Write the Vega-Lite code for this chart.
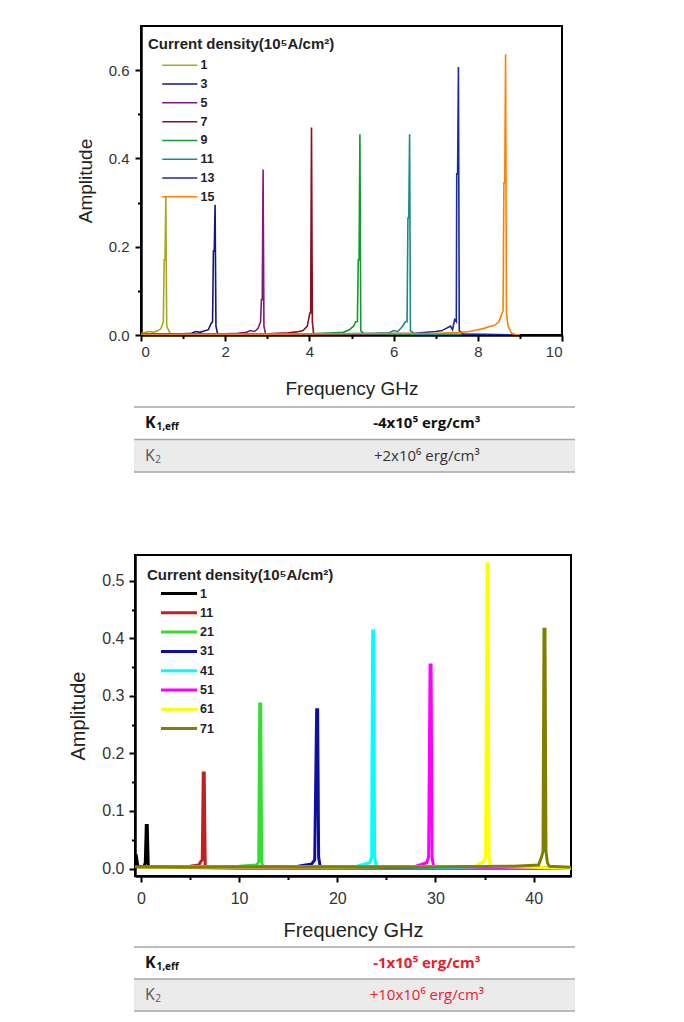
{
  "$schema": "https://vega.github.io/schema/vega-lite/v6.json",
  "padding": {"left": 0, "top": 25, "right": 0, "bottom": 0},
  "background": "white",
  "config": {
    "view": {"stroke": null},
    "font": "Liberation Sans",
    "axis": {"grid": false, "domainColor": "black", "domainWidth": 2.5, "tickColor": "black", "tickWidth": 2, "tickSize": 6, "labelColor": "#333", "titleColor": "#222", "titleFontWeight": "normal"}
  },
  "datasets": {
    "top": [
      {"c":"1","f":0,"a":0.003},{"c":"1","f":0.1,"a":0.006},{"c":"1","f":0.2,"a":0.008},{"c":"1","f":0.3,"a":0.006},{"c":"1","f":0.4,"a":0.01},{"c":"1","f":0.47,"a":0.014},{"c":"1","f":0.53,"a":0.03},{"c":"1","f":0.55,"a":0.17},{"c":"1","f":0.57,"a":0.17},{"c":"1","f":0.59,"a":0.315},{"c":"1","f":0.61,"a":0.02},{"c":"1","f":0.7,"a":0.002},{"c":"1","f":1.2,"a":0.001},{"c":"1","f":3,"a":0.001},{"c":"1","f":6,"a":0.001},{"c":"1","f":9,"a":0},
      {"c":"3","f":0,"a":0.001},{"c":"3","f":0.5,"a":0.002},{"c":"3","f":1.0,"a":0.003},{"c":"3","f":1.2,"a":0.004},{"c":"3","f":1.3,"a":0.008},{"c":"3","f":1.4,"a":0.006},{"c":"3","f":1.5,"a":0.009},{"c":"3","f":1.6,"a":0.012},{"c":"3","f":1.66,"a":0.025},{"c":"3","f":1.7,"a":0.03},{"c":"3","f":1.72,"a":0.19},{"c":"3","f":1.74,"a":0.19},{"c":"3","f":1.76,"a":0.295},{"c":"3","f":1.78,"a":0.02},{"c":"3","f":1.82,"a":0.003},{"c":"3","f":2.5,"a":0.002},{"c":"3","f":4,"a":0.001},{"c":"3","f":6,"a":0.001},{"c":"3","f":9,"a":0},
      {"c":"5","f":0,"a":0.001},{"c":"5","f":1,"a":0.002},{"c":"5","f":2,"a":0.003},{"c":"5","f":2.3,"a":0.004},{"c":"5","f":2.5,"a":0.006},{"c":"5","f":2.6,"a":0.01},{"c":"5","f":2.7,"a":0.008},{"c":"5","f":2.78,"a":0.015},{"c":"5","f":2.84,"a":0.03},{"c":"5","f":2.86,"a":0.08},{"c":"5","f":2.88,"a":0.08},{"c":"5","f":2.9,"a":0.375},{"c":"5","f":2.92,"a":0.02},{"c":"5","f":2.96,"a":0.002},{"c":"5","f":4,"a":0.001},{"c":"5","f":6,"a":0.001},{"c":"5","f":9,"a":0},
      {"c":"7","f":0,"a":0.001},{"c":"7","f":2,"a":0.002},{"c":"7","f":3,"a":0.003},{"c":"7","f":3.5,"a":0.005},{"c":"7","f":3.7,"a":0.007},{"c":"7","f":3.85,"a":0.01},{"c":"7","f":3.95,"a":0.02},{"c":"7","f":3.99,"a":0.04},{"c":"7","f":4.01,"a":0.05},{"c":"7","f":4.03,"a":0.05},{"c":"7","f":4.05,"a":0.47},{"c":"7","f":4.07,"a":0.03},{"c":"7","f":4.1,"a":0.003},{"c":"7","f":5,"a":0.002},{"c":"7","f":7,"a":0.001},{"c":"7","f":9,"a":0},
      {"c":"9","f":0,"a":0.001},{"c":"9","f":3,"a":0.002},{"c":"9","f":4,"a":0.003},{"c":"9","f":4.6,"a":0.005},{"c":"9","f":4.8,"a":0.006},{"c":"9","f":4.95,"a":0.012},{"c":"9","f":5.05,"a":0.02},{"c":"9","f":5.1,"a":0.03},{"c":"9","f":5.14,"a":0.03},{"c":"9","f":5.16,"a":0.17},{"c":"9","f":5.18,"a":0.17},{"c":"9","f":5.2,"a":0.455},{"c":"9","f":5.22,"a":0.01},{"c":"9","f":5.3,"a":0.002},{"c":"9","f":7,"a":0.001},{"c":"9","f":9,"a":0},
      {"c":"11","f":0,"a":0.001},{"c":"11","f":4,"a":0.002},{"c":"11","f":5.5,"a":0.004},{"c":"11","f":5.9,"a":0.005},{"c":"11","f":6.0,"a":0.01},{"c":"11","f":6.1,"a":0.008},{"c":"11","f":6.2,"a":0.018},{"c":"11","f":6.28,"a":0.03},{"c":"11","f":6.32,"a":0.03},{"c":"11","f":6.34,"a":0.265},{"c":"11","f":6.36,"a":0.265},{"c":"11","f":6.38,"a":0.455},{"c":"11","f":6.4,"a":0.01},{"c":"11","f":6.5,"a":0.002},{"c":"11","f":8,"a":0.001},{"c":"11","f":9,"a":0},
      {"c":"13","f":0,"a":0.001},{"c":"13","f":5,"a":0.002},{"c":"13","f":6.5,"a":0.004},{"c":"13","f":7.0,"a":0.008},{"c":"13","f":7.15,"a":0.01},{"c":"13","f":7.25,"a":0.015},{"c":"13","f":7.35,"a":0.02},{"c":"13","f":7.4,"a":0.012},{"c":"13","f":7.45,"a":0.035},{"c":"13","f":7.49,"a":0.03},{"c":"13","f":7.5,"a":0.365},{"c":"13","f":7.52,"a":0.365},{"c":"13","f":7.54,"a":0.607},{"c":"13","f":7.56,"a":0.01},{"c":"13","f":7.65,"a":0.002},{"c":"13","f":9,"a":0},
      {"c":"15","f":0,"a":0.001},{"c":"15","f":3,"a":0.002},{"c":"15","f":5,"a":0.003},{"c":"15","f":7,"a":0.004},{"c":"15","f":7.6,"a":0.006},{"c":"15","f":7.8,"a":0.008},{"c":"15","f":8.0,"a":0.012},{"c":"15","f":8.15,"a":0.015},{"c":"15","f":8.3,"a":0.02},{"c":"15","f":8.4,"a":0.022},{"c":"15","f":8.5,"a":0.03},{"c":"15","f":8.56,"a":0.045},{"c":"15","f":8.6,"a":0.055},{"c":"15","f":8.62,"a":0.345},{"c":"15","f":8.64,"a":0.345},{"c":"15","f":8.66,"a":0.636},{"c":"15","f":8.68,"a":0.05},{"c":"15","f":8.72,"a":0.02},{"c":"15","f":8.8,"a":0.004},{"c":"15","f":8.9,"a":0.001},{"c":"15","f":9.0,"a":0}
    ],
    "bottom": [
      {"c":"1","f":-0.5,"a":0.025},{"c":"1","f":-0.3,"a":0.003},{"c":"1","f":0.3,"a":0.003},{"c":"1","f":0.45,"a":0.01},{"c":"1","f":0.55,"a":0.075},{"c":"1","f":0.65,"a":0.075},{"c":"1","f":0.75,"a":0.003},{"c":"1","f":3,"a":0.002},{"c":"1","f":10,"a":0.001},{"c":"1","f":30,"a":0.001},{"c":"1","f":43.8,"a":0.001},
      {"c":"11","f":0,"a":0.002},{"c":"11","f":3,"a":0.003},{"c":"11","f":5,"a":0.004},{"c":"11","f":5.9,"a":0.006},{"c":"11","f":6.1,"a":0.012},{"c":"11","f":6.25,"a":0.015},{"c":"11","f":6.35,"a":0.166},{"c":"11","f":6.45,"a":0.166},{"c":"11","f":6.55,"a":0.004},{"c":"11","f":10,"a":0.002},{"c":"11","f":43.8,"a":0.001},
      {"c":"21","f":0,"a":0.002},{"c":"21","f":5,"a":0.003},{"c":"21","f":10,"a":0.004},{"c":"21","f":11.8,"a":0.006},{"c":"21","f":12.0,"a":0.012},{"c":"21","f":12.1,"a":0.286},{"c":"21","f":12.2,"a":0.286},{"c":"21","f":12.3,"a":0.01},{"c":"21","f":12.45,"a":0.004},{"c":"21","f":20,"a":0.002},{"c":"21","f":43.8,"a":0.001},
      {"c":"31","f":0,"a":0.002},{"c":"31","f":10,"a":0.003},{"c":"31","f":16,"a":0.004},{"c":"31","f":17.4,"a":0.008},{"c":"31","f":17.7,"a":0.015},{"c":"31","f":17.9,"a":0.276},{"c":"31","f":18.0,"a":0.276},{"c":"31","f":18.1,"a":0.02},{"c":"31","f":18.25,"a":0.004},{"c":"31","f":25,"a":0.002},{"c":"31","f":43.8,"a":0.001},
      {"c":"41","f":0,"a":0.002},{"c":"41","f":15,"a":0.003},{"c":"41","f":22,"a":0.004},{"c":"41","f":23.3,"a":0.01},{"c":"41","f":23.5,"a":0.02},{"c":"41","f":23.6,"a":0.413},{"c":"41","f":23.7,"a":0.413},{"c":"41","f":23.8,"a":0.02},{"c":"41","f":23.95,"a":0.004},{"c":"41","f":30,"a":0.002},{"c":"41","f":43.8,"a":0.001},
      {"c":"51","f":0,"a":0.002},{"c":"51","f":20,"a":0.003},{"c":"51","f":28,"a":0.004},{"c":"51","f":29.1,"a":0.01},{"c":"51","f":29.3,"a":0.02},{"c":"51","f":29.45,"a":0.354},{"c":"51","f":29.55,"a":0.354},{"c":"51","f":29.65,"a":0.02},{"c":"51","f":29.8,"a":0.004},{"c":"51","f":35,"a":0.002},{"c":"51","f":43.8,"a":0.001},
      {"c":"61","f":0,"a":0.002},{"c":"61","f":25,"a":0.003},{"c":"61","f":34,"a":0.004},{"c":"61","f":34.9,"a":0.012},{"c":"61","f":35.1,"a":0.02},{"c":"61","f":35.25,"a":0.53},{"c":"61","f":35.35,"a":0.53},{"c":"61","f":35.45,"a":0.02},{"c":"61","f":35.6,"a":0.004},{"c":"61","f":40,"a":0.002},{"c":"61","f":43.8,"a":0.0},
      {"c":"71","f":-0.6,"a":0.003},{"c":"71","f":5,"a":0.002},{"c":"71","f":10,"a":0.003},{"c":"71","f":20,"a":0.003},{"c":"71","f":30,"a":0.003},{"c":"71","f":38,"a":0.004},{"c":"71","f":40.5,"a":0.006},{"c":"71","f":40.8,"a":0.02},{"c":"71","f":40.95,"a":0.03},{"c":"71","f":41.05,"a":0.416},{"c":"71","f":41.15,"a":0.416},{"c":"71","f":41.25,"a":0.03},{"c":"71","f":41.4,"a":0.01},{"c":"71","f":41.6,"a":0.004},{"c":"71","f":43.8,"a":0.002}
    ],
    "tableTop": [
      {"row":"K1","label":"K","sub":"1,eff","value":"-4x10⁵ erg/cm³"},
      {"row":"K2","label":"K","sub":"2","value":"+2x10⁶  erg/cm³"}
    ],
    "tableBottom": [
      {"row":"K1","label":"K","sub":"1,eff","value":"-1x10⁵ erg/cm³"},
      {"row":"K2","label":"K","sub":"2","value":"+10x10⁶  erg/cm³"}
    ]
  },
  "spacing": 81,
  "resolve": {"scale": {"color": "independent", "x": "independent", "y": "independent"}, "legend": {"color": "independent"}},
  "vconcat": [
    {
      "spacing": 7,
      "resolve": {"scale": {"color": "independent", "x": "independent", "y": "independent"}, "legend": {"color": "independent"}},
      "vconcat": [
        {
          "spacing": 0,
          "hconcat": [
            {"width": 75, "height": 1, "data": {"values": [{}]}, "mark": {"type": "point", "opacity": 0, "size": 0}},
            {
              "width": 421, "height": 309,
              "view": {"stroke": "black", "strokeWidth": 2},
              "data": {"name": "top"},
              "resolve": {"axis": {"x": "independent", "y": "independent"}},
              "layer": [
                {
                  "mark": {"type": "line", "strokeWidth": 1.6, "clip": true},
                  "encoding": {
                    "x": {"field": "f", "type": "quantitative", "scale": {"domain": [0, 10], "nice": false, "zero": false},
                      "axis": {"orient": "bottom", "values": [0, 2, 4, 6, 8, 10], "format": "d", "labelFontSize": 15, "labelPadding": 3, "title": "Frequency GHz", "titleFontSize": 19, "titlePadding": 20}},
                    "y": {"field": "a", "type": "quantitative", "scale": {"domain": [0, 0.7], "nice": false},
                      "axis": {"orient": "left", "values": [0, 0.2, 0.4, 0.6], "format": ".1f", "labelFontSize": 15, "labelPadding": 6, "title": "Amplitude", "titleFontSize": 19, "titlePadding": 13}},
                    "color": {"field": "c", "type": "nominal",
                      "scale": {"domain": ["1", "3", "5", "7", "9", "11", "13", "15"], "range": ["#a8a820", "#151580", "#801a80", "#8a1020", "#139a30", "#1a8a8a", "#1a2a9a", "#ff8000"]},
                      "legend": {"orient": "none", "legendX": 148, "legendY": 11, "padding": 0,
                        "title": "Current density(10⁵A/cm²)", "titleFontSize": 15, "titleFontWeight": "bold", "titleColor": "#222", "titlePadding": 7, "titleLimit": 400,
                        "labelFontSize": 12.5, "labelFontWeight": "bold", "labelColor": "#222", "labelOffset": 40,
                        "symbolType": "M1.6,0H8.6", "symbolSize": 100, "symbolStrokeWidth": 1.5, "rowPadding": 5.8}}
                  }
                },
                {
                  "mark": {"type": "point", "opacity": 0, "size": 0},
                  "encoding": {
                    "x": {"field": "f", "type": "quantitative", "axis": {"orient": "bottom", "values": [1, 3, 5, 7, 9], "labels": false, "domain": false, "tickSize": 3.5, "title": null}},
                    "y": {"field": "a", "type": "quantitative", "axis": {"orient": "left", "values": [0.1, 0.3, 0.5], "labels": false, "domain": false, "tickSize": 3.5, "title": null}}
                  }
                }
              ]
            }
          ]
        },
        {
          "spacing": 0,
          "hconcat": [
            {"width": 133, "height": 1, "data": {"values": [{}]}, "mark": {"type": "point", "opacity": 0, "size": 0}},
            {
              "width": 441, "height": 65,
              "data": {"name": "tableTop"},
              "encoding": {"y": {"field": "row", "type": "nominal", "axis": null, "scale": {"paddingInner": 0, "paddingOuter": 0}}},
              "layer": [
                {"mark": {"type": "rect"}, "encoding": {"x": {"datum": 0, "type": "quantitative", "scale": {"domain": [0, 1]}, "axis": null}, "x2": {"datum": 1}, "fill": {"field": "row", "type": "nominal", "scale": {"range": ["#ffffff", "#ebebeb"]}, "legend": null}}},
                {"mark": {"type": "rule", "color": "#a6a6a6", "strokeWidth": 1.5}, "encoding": {"y": {"field": "row", "type": "nominal", "bandPosition": 0}}},
                {"transform": [{"filter": "datum.row === 'K2'"}], "mark": {"type": "rule", "color": "#a6a6a6", "strokeWidth": 1.5}, "encoding": {"y": {"field": "row", "type": "nominal", "bandPosition": 1}}},
                {"transform": [{"filter": "datum.row === 'K1'"}], "mark": {"type": "text", "align": "left", "baseline": "middle", "font": "Open Sans", "fontSize": 16, "fontWeight": "bold", "color": "#111"}, "encoding": {"x": {"datum": 0.025, "type": "quantitative"}, "text": {"field": "label"}}},
                {"transform": [{"filter": "datum.row === 'K1'"}], "mark": {"type": "text", "align": "left", "baseline": "middle", "font": "Open Sans", "fontSize": 10, "fontWeight": "bold", "color": "#111", "dy": 4}, "encoding": {"x": {"datum": 0.051, "type": "quantitative"}, "text": {"field": "sub"}}},
                {"transform": [{"filter": "datum.row === 'K2'"}], "mark": {"type": "text", "align": "left", "baseline": "middle", "font": "Open Sans", "fontSize": 16, "color": "#555"}, "encoding": {"x": {"datum": 0.025, "type": "quantitative"}, "text": {"field": "label"}}},
                {"transform": [{"filter": "datum.row === 'K2'"}], "mark": {"type": "text", "align": "left", "baseline": "middle", "font": "Open Sans", "fontSize": 10, "color": "#555", "dy": 4}, "encoding": {"x": {"datum": 0.048, "type": "quantitative"}, "text": {"field": "sub"}}},
                {"transform": [{"filter": "datum.row === 'K1'"}], "mark": {"type": "text", "align": "center", "baseline": "middle", "font": "Open Sans", "fontSize": 15, "fontWeight": "bold", "color": "#111"}, "encoding": {"x": {"datum": 0.664, "type": "quantitative"}, "text": {"field": "value"}}},
                {"transform": [{"filter": "datum.row === 'K2'"}], "mark": {"type": "text", "align": "center", "baseline": "middle", "font": "Open Sans", "fontSize": 15, "color": "#333"}, "encoding": {"x": {"datum": 0.664, "type": "quantitative"}, "text": {"field": "value"}}}
              ]
            }
          ]
        }
      ]
    },
    {
      "spacing": 5,
      "resolve": {"scale": {"color": "independent", "x": "independent", "y": "independent"}, "legend": {"color": "independent"}},
      "vconcat": [
        {
          "spacing": 0,
          "hconcat": [
            {"width": 67, "height": 1, "data": {"values": [{}]}, "mark": {"type": "point", "opacity": 0, "size": 0}},
            {
              "width": 436, "height": 321,
              "view": {"stroke": "black", "strokeWidth": 2},
              "data": {"name": "bottom"},
              "resolve": {"axis": {"x": "independent", "y": "independent"}},
              "layer": [
                {
                  "mark": {"type": "line", "strokeWidth": 3, "clip": true},
                  "encoding": {
                    "x": {"field": "f", "type": "quantitative", "scale": {"domain": [-0.6, 43.8], "nice": false, "zero": false},
                      "axis": {"orient": "bottom", "values": [0, 10, 20, 30, 40], "format": "d", "labelFontSize": 16, "labelPadding": 8, "title": "Frequency GHz", "titleFontSize": 20, "titlePadding": 14}},
                    "y": {"field": "a", "type": "quantitative", "scale": {"domain": [-0.013, 0.545], "nice": false, "zero": false},
                      "axis": {"orient": "left", "values": [0, 0.1, 0.2, 0.3, 0.4, 0.5], "format": ".1f", "labelFontSize": 16, "labelPadding": 5, "title": "Amplitude", "titleFontSize": 20, "titlePadding": 13}},
                    "color": {"field": "c", "type": "nominal",
                      "scale": {"domain": ["1", "11", "21", "31", "41", "51", "61", "71"], "range": ["#000000", "#c02020", "#33dd33", "#1010a0", "#00ffff", "#ff00ff", "#ffff00", "#808000"]},
                      "legend": {"orient": "none", "legendX": 147, "legendY": 13, "padding": 0,
                        "title": "Current density(10⁵A/cm²)", "titleFontSize": 15, "titleFontWeight": "bold", "titleColor": "#222", "titlePadding": 4, "titleLimit": 400,
                        "labelFontSize": 12.5, "labelFontWeight": "bold", "labelColor": "#222", "labelOffset": 40,
                        "symbolType": "M1.5,0H8.7", "symbolSize": 100, "symbolStrokeWidth": 3, "rowPadding": 6.3}}
                  }
                },
                {
                  "mark": {"type": "point", "opacity": 0, "size": 0},
                  "encoding": {
                    "x": {"field": "f", "type": "quantitative", "axis": {"orient": "bottom", "values": [5, 15, 25, 35], "labels": false, "domain": false, "tickSize": 3.5, "title": null}},
                    "y": {"field": "a", "type": "quantitative", "axis": {"orient": "left", "values": [0.05, 0.15, 0.25, 0.35, 0.45], "labels": false, "domain": false, "tickSize": 3.5, "title": null}}
                  }
                }
              ]
            }
          ]
        },
        {
          "spacing": 0,
          "hconcat": [
            {"width": 133, "height": 1, "data": {"values": [{}]}, "mark": {"type": "point", "opacity": 0, "size": 0}},
            {
              "width": 441, "height": 64,
              "data": {"name": "tableBottom"},
              "encoding": {"y": {"field": "row", "type": "nominal", "axis": null, "scale": {"paddingInner": 0, "paddingOuter": 0}}},
              "layer": [
                {"mark": {"type": "rect"}, "encoding": {"x": {"datum": 0, "type": "quantitative", "scale": {"domain": [0, 1]}, "axis": null}, "x2": {"datum": 1}, "fill": {"field": "row", "type": "nominal", "scale": {"range": ["#ffffff", "#ebebeb"]}, "legend": null}}},
                {"mark": {"type": "rule", "color": "#a6a6a6", "strokeWidth": 1.5}, "encoding": {"y": {"field": "row", "type": "nominal", "bandPosition": 0}}},
                {"transform": [{"filter": "datum.row === 'K2'"}], "mark": {"type": "rule", "color": "#a6a6a6", "strokeWidth": 1.5}, "encoding": {"y": {"field": "row", "type": "nominal", "bandPosition": 1}}},
                {"transform": [{"filter": "datum.row === 'K1'"}], "mark": {"type": "text", "align": "left", "baseline": "middle", "font": "Open Sans", "fontSize": 16, "fontWeight": "bold", "color": "#111"}, "encoding": {"x": {"datum": 0.025, "type": "quantitative"}, "text": {"field": "label"}}},
                {"transform": [{"filter": "datum.row === 'K1'"}], "mark": {"type": "text", "align": "left", "baseline": "middle", "font": "Open Sans", "fontSize": 10, "fontWeight": "bold", "color": "#111", "dy": 4}, "encoding": {"x": {"datum": 0.051, "type": "quantitative"}, "text": {"field": "sub"}}},
                {"transform": [{"filter": "datum.row === 'K2'"}], "mark": {"type": "text", "align": "left", "baseline": "middle", "font": "Open Sans", "fontSize": 16, "color": "#555"}, "encoding": {"x": {"datum": 0.025, "type": "quantitative"}, "text": {"field": "label"}}},
                {"transform": [{"filter": "datum.row === 'K2'"}], "mark": {"type": "text", "align": "left", "baseline": "middle", "font": "Open Sans", "fontSize": 10, "color": "#555", "dy": 4}, "encoding": {"x": {"datum": 0.048, "type": "quantitative"}, "text": {"field": "sub"}}},
                {"transform": [{"filter": "datum.row === 'K1'"}], "mark": {"type": "text", "align": "center", "baseline": "middle", "font": "Open Sans", "fontSize": 15, "fontWeight": "bold", "color": "#e8202a"}, "encoding": {"x": {"datum": 0.664, "type": "quantitative"}, "text": {"field": "value"}}},
                {"transform": [{"filter": "datum.row === 'K2'"}], "mark": {"type": "text", "align": "center", "baseline": "middle", "font": "Open Sans", "fontSize": 15, "color": "#e8202a"}, "encoding": {"x": {"datum": 0.664, "type": "quantitative"}, "text": {"field": "value"}}}
              ]
            }
          ]
        }
      ]
    }
  ]
}
